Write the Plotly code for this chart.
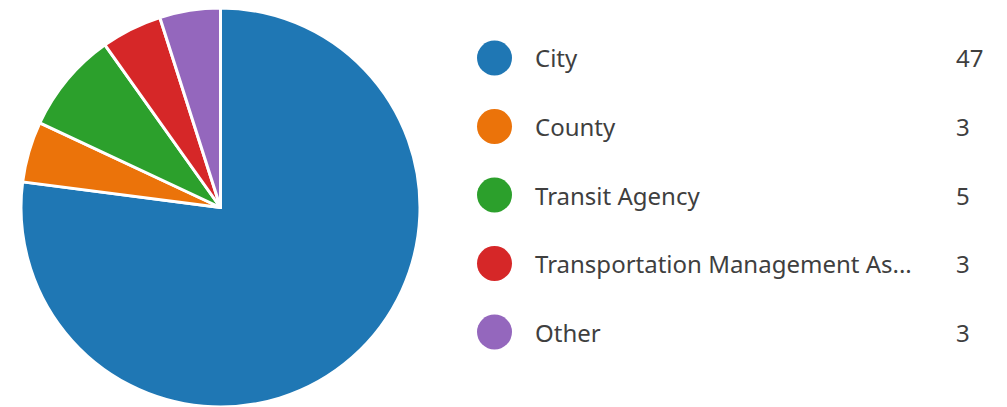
import plotly.graph_objects as go

categories = ["City", "County", "Transit Agency", "Transportation Management Association", "Other"]
counts = [47, 3, 5, 3, 3]
colors = ["#1F77B4", "#EB730A", "#2CA02C", "#D62728", "#9467BD"]

W, H = 1007, 407
MAX_CHARS = 28


def label_text(s):
    return s if len(s) <= MAX_CHARS + 3 else s[:MAX_CHARS] + "..."


def px(x):
    return x / W


def py(y):
    return (H - y) / H


fig = go.Figure()
fig.add_trace(go.Pie(
    labels=categories,
    values=counts,
    sort=False,
    direction="clockwise",
    rotation=0,
    marker=dict(colors=colors, line=dict(color="white", width=3)),
    textinfo="none",
    hoverinfo="label+value+percent",
    showlegend=False,
    domain=dict(x=[px(20.5), px(420.5)], y=[0, py(8)]),
))

FONT = dict(size=24, color="#3f3f3f", family="Noto Sans")
shapes = []
annotations = []
row0, step = 58, 68.5
for i, (cat, n, c) in enumerate(zip(categories, counts, colors)):
    yc = row0 + i * step
    r = 17.5
    shapes.append(dict(type="circle", xref="paper", yref="paper",
                       x0=px(494.5 - r), x1=px(494.5 + r),
                       y0=py(yc + r), y1=py(yc - r),
                       fillcolor=c, line=dict(width=0)))
    annotations.append(dict(xref="paper", yref="paper", x=px(533), y=py(yc),
                            text=label_text(cat), showarrow=False,
                            xanchor="left", yanchor="middle", font=FONT))
    annotations.append(dict(xref="paper", yref="paper", x=px(954), y=py(yc),
                            text=str(n), showarrow=False,
                            xanchor="left", yanchor="middle", font=FONT))

fig.update_layout(
    width=W, height=H,
    margin=dict(l=0, r=0, t=0, b=0),
    paper_bgcolor="white", plot_bgcolor="white",
    shapes=shapes, annotations=annotations,
)

fig.write_html("out.html")
